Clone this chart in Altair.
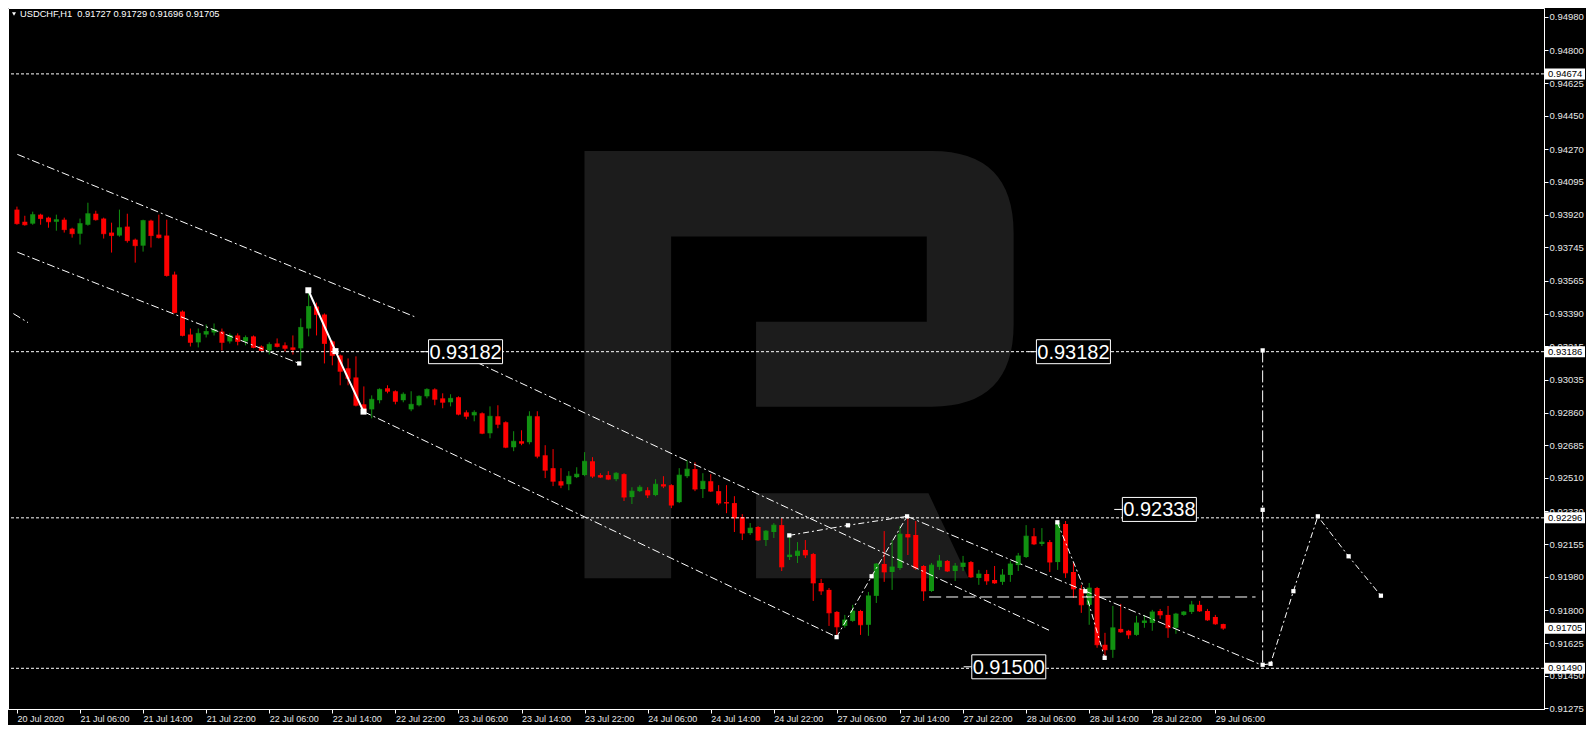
import altair as alt
import pandas as pd

title_text = "USDCHF,H1\u00a0 0.91727 0.91729 0.91696 0.91705"

opens = [0.93947, 0.93882, 0.93872, 0.93920, 0.93904, 0.93882, 0.93893, 0.93845, 0.93818, 0.93866,
         0.93925, 0.93899, 0.93824, 0.93808, 0.93856, 0.93786, 0.93754, 0.93888, 0.93813, 0.93808,
         0.93599, 0.93401, 0.93278, 0.93236, 0.93278, 0.93289, 0.93294, 0.93241, 0.93273, 0.93241,
         0.93268, 0.93214, 0.93193, 0.93230, 0.93220, 0.93209, 0.93204, 0.93310, 0.93428, 0.93385,
         0.93241, 0.93166, 0.93097, 0.93048, 0.92904, 0.92877, 0.92926, 0.92990, 0.92974, 0.92926,
         0.92877, 0.92899, 0.92947, 0.92984, 0.92936, 0.92915, 0.92942, 0.92861, 0.92845, 0.92856,
         0.92749, 0.92840, 0.92808, 0.92674, 0.92706, 0.92701, 0.92840, 0.92631, 0.92562, 0.92492,
         0.92476, 0.92514, 0.92525, 0.92599, 0.92525, 0.92525, 0.92503, 0.92530, 0.92407, 0.92439,
         0.92444, 0.92418, 0.92476, 0.92471, 0.92380, 0.92519, 0.92557, 0.92450, 0.92492, 0.92439,
         0.92380, 0.92375, 0.92300, 0.92214, 0.92247, 0.92177, 0.92220, 0.92257, 0.92086, 0.92092,
         0.92124, 0.92102, 0.91947, 0.91910, 0.91792, 0.91717, 0.91744, 0.91797, 0.91723, 0.91878,
         0.92049, 0.92006, 0.92027, 0.92209, 0.92204, 0.92038, 0.91904, 0.92033, 0.92065, 0.92011,
         0.92033, 0.92059, 0.91974, 0.91995, 0.91963, 0.91953, 0.91990, 0.92043, 0.92086, 0.92198,
         0.92156, 0.92166, 0.92059, 0.92263, 0.92006, 0.91915, 0.91830, 0.91920, 0.91616, 0.91589,
         0.91701, 0.91691, 0.91669, 0.91733, 0.91733, 0.91797, 0.91776, 0.91707, 0.91776, 0.91792,
         0.91830, 0.91797, 0.91765, 0.91727]
highs = [0.93963, 0.93914, 0.93936, 0.93925, 0.93909, 0.93920, 0.93904, 0.93850, 0.93899, 0.93984,
         0.93941, 0.93904, 0.93877, 0.93947, 0.93925, 0.93792, 0.93893, 0.93893, 0.93920, 0.93893,
         0.93615, 0.93407, 0.93310, 0.93310, 0.93332, 0.93337, 0.93310, 0.93284, 0.93284, 0.93273,
         0.93273, 0.93220, 0.93236, 0.93257, 0.93236, 0.93273, 0.93364, 0.93508, 0.93449, 0.93391,
         0.93246, 0.93171, 0.93150, 0.93161, 0.93000, 0.92952, 0.92990, 0.93006, 0.92979, 0.92968,
         0.92974, 0.92952, 0.92990, 0.92990, 0.92963, 0.92958, 0.92947, 0.92872, 0.92872, 0.92861,
         0.92893, 0.92899, 0.92813, 0.92760, 0.92765, 0.92867, 0.92867, 0.92685, 0.92664, 0.92562,
         0.92546, 0.92567, 0.92648, 0.92621, 0.92535, 0.92546, 0.92541, 0.92535, 0.92460, 0.92471,
         0.92460, 0.92503, 0.92519, 0.92476, 0.92562, 0.92605, 0.92594, 0.92535, 0.92530, 0.92471,
         0.92471, 0.92412, 0.92316, 0.92268, 0.92252, 0.92231, 0.92268, 0.92295, 0.92204, 0.92166,
         0.92177, 0.92108, 0.91969, 0.91920, 0.91797, 0.91776, 0.91830, 0.91803, 0.91899, 0.92054,
         0.92225, 0.92177, 0.92252, 0.92305, 0.92279, 0.92043, 0.92054, 0.92097, 0.92070, 0.92054,
         0.92092, 0.92065, 0.92017, 0.92017, 0.92038, 0.92022, 0.92065, 0.92108, 0.92257, 0.92241,
         0.92241, 0.92177, 0.92279, 0.92279, 0.92059, 0.91937, 0.91947, 0.91926, 0.91680, 0.91824,
         0.91835, 0.91696, 0.91771, 0.91776, 0.91803, 0.91808, 0.91824, 0.91787, 0.91797, 0.91851,
         0.91851, 0.91808, 0.91776, 0.91729]
lows = [0.93866, 0.93861, 0.93866, 0.93866, 0.93850, 0.93834, 0.93824, 0.93797, 0.93760, 0.93861,
        0.93888, 0.93792, 0.93717, 0.93802, 0.93770, 0.93663, 0.93722, 0.93744, 0.93792, 0.93588,
        0.93391, 0.93268, 0.93214, 0.93209, 0.93262, 0.93273, 0.93193, 0.93230, 0.93220, 0.93220,
        0.93204, 0.93187, 0.93171, 0.93209, 0.93187, 0.93171, 0.93139, 0.93268, 0.93273, 0.93123,
        0.93113, 0.93006, 0.93006, 0.92893, 0.92851, 0.92829, 0.92909, 0.92963, 0.92904, 0.92915,
        0.92867, 0.92893, 0.92936, 0.92899, 0.92883, 0.92893, 0.92845, 0.92824, 0.92813, 0.92744,
        0.92722, 0.92776, 0.92669, 0.92653, 0.92685, 0.92690, 0.92615, 0.92509, 0.92466, 0.92455,
        0.92444, 0.92509, 0.92519, 0.92509, 0.92509, 0.92498, 0.92492, 0.92386, 0.92370, 0.92434,
        0.92402, 0.92412, 0.92455, 0.92348, 0.92375, 0.92509, 0.92439, 0.92402, 0.92434, 0.92364,
        0.92321, 0.92220, 0.92177, 0.92204, 0.92172, 0.92145, 0.92188, 0.92011, 0.92070, 0.92054,
        0.92081, 0.91851, 0.91883, 0.91717, 0.91669, 0.91707, 0.91739, 0.91669, 0.91664, 0.91840,
        0.91953, 0.91910, 0.92017, 0.92097, 0.92017, 0.91851, 0.91899, 0.92017, 0.92006, 0.91958,
        0.92011, 0.91974, 0.91937, 0.91937, 0.91942, 0.91937, 0.91953, 0.92011, 0.92081, 0.92150,
        0.92145, 0.92006, 0.92017, 0.91974, 0.91867, 0.91787, 0.91723, 0.91600, 0.91546, 0.91546,
        0.91680, 0.91648, 0.91664, 0.91707, 0.91691, 0.91755, 0.91653, 0.91675, 0.91771, 0.91781,
        0.91792, 0.91744, 0.91723, 0.91696]
closes = [0.93872, 0.93866, 0.93920, 0.93899, 0.93882, 0.93893, 0.93840, 0.93818, 0.93872, 0.93925,
          0.93893, 0.93818, 0.93808, 0.93850, 0.93781, 0.93754, 0.93888, 0.93808, 0.93797, 0.93594,
          0.93396, 0.93273, 0.93236, 0.93284, 0.93294, 0.93305, 0.93236, 0.93273, 0.93241, 0.93262,
          0.93209, 0.93193, 0.93225, 0.93214, 0.93204, 0.93198, 0.93316, 0.93428, 0.93385, 0.93230,
          0.93166, 0.93081, 0.93043, 0.92899, 0.92867, 0.92931, 0.92984, 0.92974, 0.92920, 0.92958,
          0.92904, 0.92947, 0.92984, 0.92931, 0.92915, 0.92936, 0.92851, 0.92840, 0.92861, 0.92749,
          0.92840, 0.92797, 0.92674, 0.92706, 0.92696, 0.92840, 0.92626, 0.92551, 0.92492, 0.92471,
          0.92519, 0.92530, 0.92599, 0.92519, 0.92514, 0.92503, 0.92535, 0.92407, 0.92439, 0.92460,
          0.92418, 0.92476, 0.92466, 0.92364, 0.92525, 0.92557, 0.92450, 0.92492, 0.92439, 0.92375,
          0.92375, 0.92295, 0.92214, 0.92241, 0.92177, 0.92225, 0.92257, 0.92033, 0.92097, 0.92118,
          0.92097, 0.91947, 0.91904, 0.91787, 0.91712, 0.91749, 0.91797, 0.91723, 0.91878, 0.92049,
          0.92006, 0.92033, 0.92209, 0.92193, 0.92027, 0.91904, 0.92043, 0.92065, 0.92011, 0.92038,
          0.92054, 0.91979, 0.91995, 0.91958, 0.91947, 0.91990, 0.92049, 0.92092, 0.92198, 0.92156,
          0.92166, 0.92059, 0.92268, 0.92001, 0.91915, 0.91830, 0.91920, 0.91616, 0.91589, 0.91707,
          0.91685, 0.91669, 0.91733, 0.91744, 0.91792, 0.91776, 0.91707, 0.91781, 0.91792, 0.91830,
          0.91797, 0.91749, 0.91728, 0.91705]

tick_bars = [0, 8, 16, 24, 32, 40, 48, 56, 64, 72, 80, 88, 96, 104, 112, 120, 128, 136, 144, 152]
tick_labels = ["20 Jul 2020", "21 Jul 06:00", "21 Jul 14:00", "21 Jul 22:00", "22 Jul 06:00",
               "22 Jul 14:00", "22 Jul 22:00", "23 Jul 06:00", "23 Jul 14:00", "23 Jul 22:00",
               "24 Jul 06:00", "24 Jul 14:00", "24 Jul 22:00", "27 Jul 06:00", "27 Jul 14:00",
               "27 Jul 22:00", "28 Jul 06:00", "28 Jul 14:00", "28 Jul 22:00", "29 Jul 06:00"]

price_ticks = [0.94980, 0.94800, 0.94625, 0.94450, 0.94270, 0.94095, 0.93920, 0.93745, 0.93565,
               0.93390, 0.93215, 0.93035, 0.92860, 0.92685, 0.92510, 0.92330, 0.92155, 0.91980,
               0.91800, 0.91625, 0.91450, 0.91275]

level_prices = [0.94674, 0.93186, 0.92296, 0.91490]
axis_marks = [0.94674, 0.93186, 0.92296, 0.91705, 0.91490]

label_texts = ["0.93182", "0.93182", "0.92338", "0.91500"]
label_bars = [56.9, 134.0, 144.9, 125.8]
label_prices = [0.93186, 0.93186, 0.92341, 0.91498]

chan_id = ["a", "a", "a2", "a2", "b", "b", "c", "c", "d", "d", "e", "e"]
chan_bar = [0.05, 50.4, -0.45, 1.4, 0.05, 35.8, 43.96, 103.9, 58.3, 131.05, 112.9, 157.8]
chan_price = [0.94243, 0.93374, 0.93390, 0.93342, 0.93719, 0.93123, 0.92865, 0.91659,
              0.93129, 0.91691, 0.92304, 0.91509]

zig_id = ["f", "f", "f", "g", "g", "g", "i", "i", "i", "l", "l", "l", "l", "l", "l"]
zig_bar = [97.96, 105.4, 112.9, 103.96, 108.4, 112.9, 131.96, 135.5, 137.96,
           158.0, 159.0, 161.9, 165.0, 168.9, 173.0]
zig_price = [0.92202, 0.92256, 0.92304, 0.91657, 0.91983, 0.92304, 0.92272, 0.91903, 0.91546,
             0.91509, 0.91514, 0.91903, 0.92304, 0.92090, 0.91879]

vert_bar = [158.0, 158.0]
vert_price = [0.93193, 0.91509]
flat_bar = [115.7, 157.1]
flat_price = [0.91872, 0.91872]
solid_bar = [36.96, 40.4, 43.96]
solid_price = [0.93515, 0.93189, 0.92865]

marker_bar = [35.8, 97.96, 105.4, 112.9, 103.96, 108.4, 131.96, 135.5, 137.96,
              158.0, 158.0, 158.0, 159.0, 161.9, 165.0, 168.9, 173.0]
marker_price = [0.93123, 0.92202, 0.92256, 0.92304, 0.91657, 0.91983, 0.92272, 0.91903, 0.91546,
                0.93193, 0.92339, 0.91509, 0.91514, 0.91903, 0.92304, 0.92090, 0.91879]

logo_bar = [99.2]
logo_price = [0.93116]

GREEN = "#119111"
RED = "#ff0000"
FONT = "Liberation Sans"

R_PATH = ("M-0.998,-0.994L0.618,-0.994Q0.998,-0.994,0.998,-0.611L0.998,-0.188"
          "Q0.998,0.195,0.618,0.195L-0.2,0.195L-0.2,-0.2L0.594,-0.2L0.594,-0.596"
          "L-0.595,-0.596L-0.595,0.993L-0.998,0.993Z"
          "M-0.2,0.598L0.602,0.598L0.788,0.993L-0.2,0.993Z")
BIG_BOX = "M-1,-0.324L1,-0.324L1,0.324L-1,0.324ZM-1.22,0L-1,0"
SMALL_BOX = "M-1,-0.275L1,-0.275L1,0.275L-1,0.275Z"

# ---------- tables ----------
cdf = pd.DataFrame({"i": list(range(len(opens))), "o": opens, "h": highs, "l": lows, "c": closes})
cdf["dir"] = ["up" if c >= o else "down" for o, c in zip(opens, closes)]

def line_df(ids, bars, prices):
    return pd.DataFrame({"id": ids, "i": bars, "p": prices, "k": list(range(len(bars)))})

chan_df = line_df(chan_id, chan_bar, chan_price)
zig_df = line_df(zig_id, zig_bar, zig_price)
vert_df = line_df(["k"] * len(vert_bar), vert_bar, vert_price)
flat_df = line_df(["j"] * len(flat_bar), flat_bar, flat_price)
solid_df = line_df(["h"] * len(solid_bar), solid_bar, solid_price)
mark_df = pd.DataFrame({"i": marker_bar, "p": marker_price})
lvl_df = pd.DataFrame({"p": level_prices})
ax_df = pd.DataFrame({"p": axis_marks, "t": ["%.5f" % v for v in axis_marks]})
lab_df = pd.DataFrame({"i": label_bars, "p": label_prices, "t": label_texts})
logo_df = pd.DataFrame({"i": logo_bar, "p": logo_price})
title_df = pd.DataFrame({"t": [title_text]})

# ---------- scales / axes ----------
xs = alt.Scale(domain=[-0.5, 193.05], nice=False, zero=False)
ys = alt.Scale(domain=[0.91272, 0.95027], nice=False, zero=False)

label_expr = ("[" + ",".join("'%s'" % t for t in tick_labels) + "][indexof(["
              + ",".join(str(v) for v in tick_bars) + "], datum.value)]")

xaxis = alt.Axis(values=tick_bars, labelExpr=label_expr, title=None, grid=False,
                 labelAlign="left", labelFlush=False, labelOverlap=False, labelPadding=1,
                 tickSize=4, labelFont=FONT, labelFontSize=9, labelColor="#e8e8e8",
                 tickColor="white", domainColor="white", labelBaseline="top")
yaxis = alt.Axis(values=price_ticks, format=".5f", title=None, grid=False, orient="right",
                 labelFlush=False, labelOverlap=False, labelPadding=1, tickSize=4,
                 labelFont=FONT, labelFontSize=9.5, labelColor="#e8e8e8",
                 tickColor="white", domainColor="white")

def X(f):
    return alt.X(f, type="quantitative", scale=xs, axis=xaxis)

def Y(f):
    return alt.Y(f, type="quantitative", scale=ys, axis=yaxis)

COL = alt.Color("dir:N", scale=alt.Scale(domain=["up", "down"], range=[GREEN, RED]), legend=None)

# ---------- layers ----------
logo = alt.Chart(logo_df).mark_point(shape=R_PATH, filled=True, color="#1c1c1c", size=184900,
                                     opacity=1, strokeWidth=0).encode(x=X("i"), y=Y("p"))

wicks = alt.Chart(cdf).mark_rule(strokeWidth=1).encode(x=X("i"), y=Y("l"), y2=alt.Y2("h"), color=COL)
bodies = alt.Chart(cdf).mark_bar(size=5).encode(x=X("i"), y=Y("o"), y2=alt.Y2("c"), color=COL)
doji = alt.Chart(cdf).mark_tick(orient="horizontal", thickness=1, size=5).encode(
    x=X("i"), y=Y("c"), color=COL)

levels = alt.Chart(lvl_df).mark_rule(color="white", strokeWidth=1, strokeDash=[3, 2]).encode(y=Y("p"))

def lines(df, dash, width=1):
    return alt.Chart(df).mark_line(color="white", strokeWidth=width, strokeDash=dash).encode(
        x=X("i"), y=Y("p"), detail="id:N", order="k:Q")

chan = lines(chan_df, [8, 3, 2, 3])
zig = lines(zig_df, [6, 3, 2, 3])
vert = lines(vert_df, [12, 3, 2, 3])
flat = lines(flat_df, [12, 5])
solid = alt.Chart(solid_df).mark_line(color="white", strokeWidth=2).encode(
    x=X("i"), y=Y("p"), order="k:Q")
solid_pts = alt.Chart(solid_df).mark_square(color="white", size=36, opacity=1).encode(x=X("i"), y=Y("p"))
pts = alt.Chart(mark_df).mark_square(color="white", size=18, opacity=1).encode(x=X("i"), y=Y("p"))

boxes = alt.Chart(lab_df).mark_point(shape=BIG_BOX, filled=True, fill="black", stroke="white",
                                     strokeWidth=1, size=5476, opacity=1, fillOpacity=1,
                                     strokeOpacity=1).encode(x=X("i"), y=Y("p"))
box_text = alt.Chart(lab_df).mark_text(font=FONT, fontSize=20, color="white", align="center",
                                       baseline="middle", dy=1).encode(x=X("i"), y=Y("p"), text="t:N")

ax_boxes = alt.Chart(ax_df).mark_point(shape=SMALL_BOX, filled=True, color="white", size=1600,
                                       opacity=1, strokeWidth=0).encode(x=alt.value(1557), y=Y("p"))
ax_text = alt.Chart(ax_df).mark_text(font=FONT, fontSize=9.5, color="black", align="left",
                                     baseline="middle").encode(x=alt.value(1540), y=Y("p"), text="t:N")

tri = alt.Chart(title_df).mark_point(shape="triangle-down", filled=True, color="white", size=16,
                                     opacity=1).encode(x=alt.value(6), y=alt.value(6))
title = alt.Chart(title_df).mark_text(font=FONT, fontSize=9.3, color="white", align="left",
                                      baseline="top").encode(x=alt.value(12), y=alt.value(2), text="t:N")

chart = alt.layer(
    logo, wicks, bodies, doji, levels, chan, zig, vert, flat, solid, solid_pts, pts,
    boxes, box_text, ax_boxes, ax_text, tri, title
).properties(
    width=1536, height=701,
    autosize=alt.AutoSizeParams(type="none"),
    padding={"left": 0, "top": 0, "right": 42, "bottom": 16},
).configure(background="#000000").configure_view(stroke="white", strokeWidth=1)

chart.save("out.html", embed_options={"renderer": "svg", "actions": False})
